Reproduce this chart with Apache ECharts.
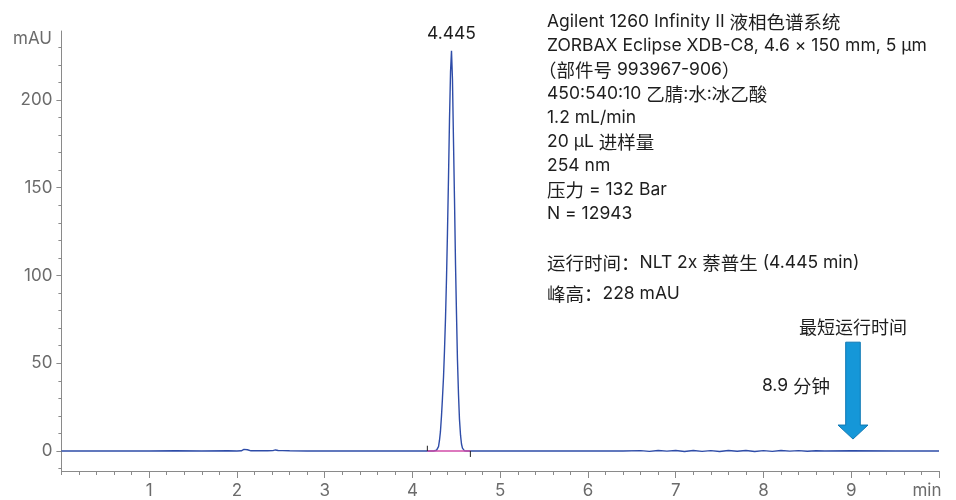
<!DOCTYPE html>
<html><head><meta charset="utf-8">
<script src="https://cdn.jsdelivr.net/npm/echarts@6/dist/echarts.min.js"></script>
<style>html,body{margin:0;padding:0;background:#fff}#c{width:956px;height:500px}</style>
</head><body><div id="c"></div>
<script>
// ---- data ----
const timeMin = [
  0, 0.5, 1.0, 1.3, 1.6, 1.9, 2.0, 2.05, 2.08, 2.1, 2.12, 2.16, 2.25, 2.35, 2.41, 2.44, 2.47, 2.52, 2.6, 2.8,
  3.2, 3.6, 4.0, 4.2, 4.24,
  4.262, 4.274, 4.285, 4.297, 4.308, 4.319, 4.331, 4.342, 4.354, 4.365, 4.377, 4.388, 4.399, 4.411, 4.422, 4.434,
  4.445,
  4.456, 4.468, 4.479, 4.491, 4.502, 4.513, 4.525, 4.536, 4.548, 4.559, 4.570, 4.582, 4.593, 4.616,
  4.7, 5.0, 5.5, 6.0, 6.4, 6.6, 6.7, 6.8, 6.9, 7.0, 7.1, 7.2, 7.3, 7.4, 7.5, 7.6, 7.7, 7.8, 7.9, 8.0,
  8.1, 8.2, 8.3, 8.4, 8.5, 8.6, 8.7, 9.0, 9.5, 10.0
];
const signalMAU = [
  0, 0, 0, 0.1, 0, 0.1, 0, 0.1, 0.9, 1.1, 0.7, 0.1, 0.2, 0.1, 0.2, 0.6, 0.3, 0.2, 0.1, 0,
  0, 0, 0, 0, 0,
  0.1, 0.4, 1, 2.5, 6, 11, 20, 30, 42, 57, 76, 98, 124, 156, 188, 216,
  228,
  212, 176, 144, 106, 78, 52, 32, 18, 9, 4, 1.6, 0.5, 0.1, 0,
  0, 0, 0, 0, 0, 0.2, -0.2, 0.3, -0.1, 0.25, -0.25, 0.3, -0.2, 0.2, -0.3, 0.25, -0.15, 0.3, -0.25, 0.2,
  -0.2, 0.25, -0.1, 0.2, -0.15, 0.15, 0, 0.1, 0, 0
];
const peakTime = 4.445;
const peakHeight = 228;
const peakLabel = '4.445';
const integrationStart = 4.17;
const integrationEnd = 4.66;
const yTickValues = [0, 50, 100, 150, 200];
const xTickValues = [1, 2, 3, 4, 5, 6, 7, 8, 9, 10];
const xUnitLabel = 'min';
const yUnitLabel = 'mAU';
const arrowTime = 9.02, arrowTop = 62, arrowTip = 6.8;
const arrowTitle = '最短运行时间';
const arrowNote = '8.9 分钟';
const infoLines = [
  'Agilent 1260 Infinity II 液相色谱系统',
  'ZORBAX Eclipse XDB-C8, 4.6 × 150 mm, 5 μm',
  '（部件号 993967-906）',
  '450:540:10 乙腈:水:冰乙酸',
  '1.2 mL/min',
  '20 μL 进样量',
  '254 nm',
  '压力 = 132 Bar',
  'N = 12943'
];
const resultLines = ['运行时间：NLT 2x 萘普生 (4.445 min)', '峰高：228 mAU'];

// ---- chart ----
const FONT = 'Inter, "Noto Sans CJK SC", sans-serif';
const CJK_FONT = '"Noto Sans CJK SC", sans-serif';
const AX = '#8a8a8a';
const yMin = -11.4, yMax = 239.3;
const yMinor = []; for (let v = -10; v <= 230; v += 10) yMinor.push(v);

const chromData = timeMin.map((t, i) => [t, signalMAU[i]]);

function richText(s) {
  return s.replace(/([\u3000-\u303f\u4e00-\u9fff\uff00-\uffef]+)/g, '{c|$1}');
}
const textRich = {c: {font: '18.5px ' + CJK_FONT, fill: '#1e1e1e'}};
const graphics = [];
infoLines.forEach((s, i) => graphics.push({type:'text', x: s.charAt(0) === '（' ? 538 : 547, y: 21.5 + i * 24,
  style:{text:richText(s), font:'17.5px ' + FONT, fill:'#1e1e1e', verticalAlign:'middle', rich:textRich}}));
resultLines.forEach((s, i) => graphics.push({type:'text', x:547, y: 263 + i * 31,
  style:{text:richText(s), font:'17.5px ' + FONT, fill:'#1e1e1e', verticalAlign:'middle', rich:textRich}}));
graphics.push({type:'text', x:52, y:39, style:{text:yUnitLabel, font:'17px ' + FONT, fill:'#6b6b6b', align:'right', verticalAlign:'middle'}});
graphics.push({type:'text', x:853, y:327, style:{text:arrowTitle, font:'18px ' + CJK_FONT, fill:'#1e1e1e', align:'center', verticalAlign:'middle'}});
graphics.push({type:'text', x:796, y:386, style:{text:richText(arrowNote), font:'17.5px ' + FONT, fill:'#1e1e1e', align:'center', verticalAlign:'middle', rich:textRich}});

const option = {
  animation: false,
  backgroundColor: '#fff',
  textStyle: {fontFamily: FONT},
  grid: {left: 61.4, right: 17, top: 31, bottom: 29, containLabel: false},
  xAxis: [
    {type:'value', min:0, max:10, position:'bottom',
     axisLine:{show:true, onZero:false, lineStyle:{color:AX, width:1}},
     axisTick:{show:true, length:7, customValues: xTickValues, lineStyle:{color:AX}},
     axisLabel:{show:true, customValues: xTickValues, margin:11, color:'#6b6b6b', fontSize:17, fontFamily:FONT,
       formatter: v => v === 10 ? '{u|' + xUnitLabel + '}' : String(v),
       rich:{u:{fontSize:17, color:'#6b6b6b', fontFamily:FONT, padding:[0,24,0,0]}}},
     splitLine:{show:false}},
    {type:'value', min:0, max:10, interval:0.2, position:'bottom', gridIndex:0,
     axisLine:{show:false, onZero:false},
     axisTick:{show:true, length:4, lineStyle:{color:AX}},
     axisLabel:{show:false}, splitLine:{show:false}}
  ],
  yAxis: [
    {type:'value', min:yMin, max:yMax, position:'left',
     axisLine:{show:true, onZero:false, lineStyle:{color:AX, width:1}},
     axisTick:{show:true, length:5, customValues: yTickValues, lineStyle:{color:AX}},
     axisLabel:{show:true, customValues: yTickValues, margin:9, color:'#6b6b6b', fontSize:17, fontFamily:FONT},
     splitLine:{show:false}},
    {type:'value', min:yMin, max:yMax, position:'left',
     axisLine:{show:false, onZero:false},
     axisTick:{show:true, length:3, customValues: yMinor, lineStyle:{color:AX}},
     axisLabel:{show:false}, splitLine:{show:false}}
  ],
  graphic: graphics,
  series: [
    {type:'line', data: chromData, showSymbol:false, symbol:'none', smooth:false,
     lineStyle:{color:'#2e4ca8', width:1.4}, z:3,
     markPoint:{symbol:'circle', symbolSize:0,
       data:[{coord:[peakTime, peakHeight], value: peakLabel}],
       label:{show:true, position:'top', distance:8, formatter: peakLabel, color:'#1e1e1e', fontSize:17.5, fontFamily:FONT}}},
    {type:'line', data:[[integrationStart,0],[integrationEnd,0]], showSymbol:false, symbol:'none',
     lineStyle:{color:'#d24ca8', width:1.3}, z:4},
    {type:'line', data:[[integrationStart,0],[integrationStart,3]], showSymbol:false, symbol:'none',
     lineStyle:{color:'#222', width:1}, z:4},
    {type:'line', data:[[integrationEnd,0],[integrationEnd,-3.4]], showSymbol:false, symbol:'none',
     lineStyle:{color:'#222', width:1}, z:4},
    {type:'custom', data:[[arrowTime, arrowTop, arrowTip]], z:5,
     renderItem: function(params, api){
       const top = api.coord([api.value(0), api.value(1)]);
       const tip = api.coord([api.value(0), api.value(2)]);
       const cx = top[0], sw = 7.3, hw = 15, hl = 14;
       const pts = [[cx-sw, top[1]],[cx+sw, top[1]],[cx+sw, tip[1]-hl],[cx+hw, tip[1]-hl],
                    [cx, tip[1]],[cx-hw, tip[1]-hl],[cx-sw, tip[1]-hl]];
       return {type:'polygon', shape:{points:pts}, style:{fill:'#1597d8', stroke:'#0f78b4', lineWidth:1}};
     }}
  ]
};
const chart = echarts.init(document.getElementById('c'), null, {renderer:'canvas'});
chart.setOption(option);
</script></body></html>
